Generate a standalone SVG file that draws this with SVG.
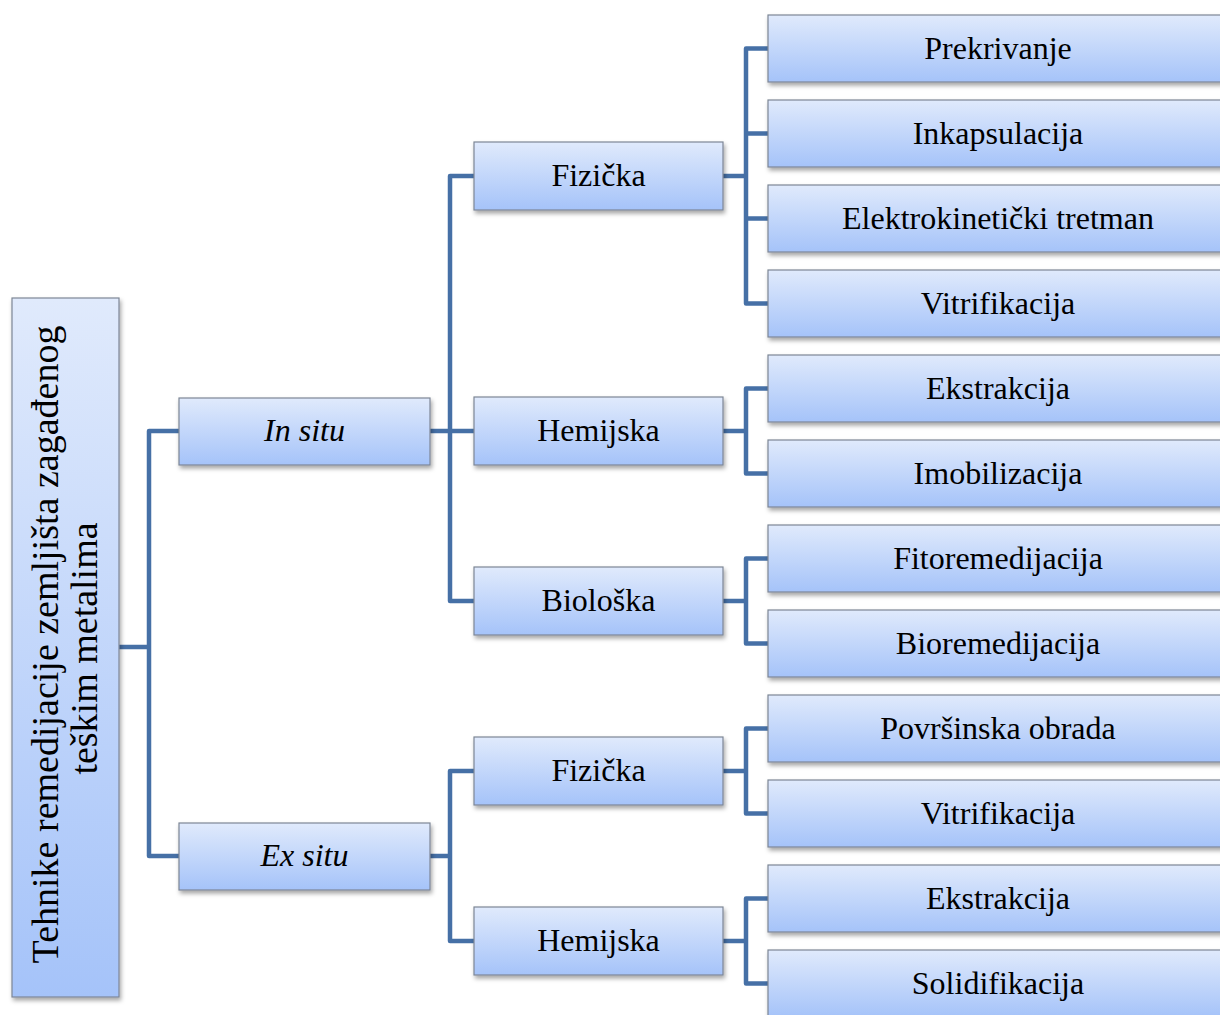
<svg xmlns="http://www.w3.org/2000/svg" width="1220" height="1015" viewBox="0 0 1220 1015">
<defs>
<linearGradient id="g" x1="0" y1="0" x2="0" y2="1">
<stop offset="0" stop-color="#e0eafc"/>
<stop offset="1" stop-color="#a5c3f9"/>
</linearGradient>
<linearGradient id="gr" x1="0" y1="0" x2="0" y2="1">
<stop offset="0" stop-color="#e0eafc"/>
<stop offset="1" stop-color="#a5c3f9"/>
</linearGradient>
<filter id="sh" x="-10%" y="-20%" width="130%" height="150%">
<feDropShadow dx="1.5" dy="3" stdDeviation="2" flood-color="#000" flood-opacity="0.35"/>
</filter>
</defs>
<style>
.box{fill:url(#g);stroke:#7d8696;stroke-width:1.2;filter:url(#sh)}
.t{font-family:"Liberation Serif","Times New Roman",serif;font-size:32px;fill:#000;text-anchor:middle}
.rt{font-family:"Liberation Serif","Times New Roman",serif;font-size:38px;fill:#000;text-anchor:middle}
.i{font-style:italic}
.c{fill:none;stroke:#4670a6;stroke-width:4.5;stroke-linejoin:round}
</style>
<rect width="1220" height="1015" fill="#fff"/>
<g id="connectors">
<path class="c" d="M119,647 H149 M179,431 H149 V856 H179"/>
<path class="c" d="M430,431 H474 M474,176 H450 V601 H474"/>
<path class="c" d="M430,856 H450 M474,771 H450 V941 H474"/>
<path class="c" d="M723,176 H746 M768,48.5 H746 V303.5 H768 M746,133.5 H768 M746,218.5 H768"/>
<path class="c" d="M723,431 H746 M768,388.5 H746 V473.5 H768"/>
<path class="c" d="M723,601 H746 M768,558.5 H746 V643.5 H768"/>
<path class="c" d="M723,771 H746 M768,728.5 H746 V813.5 H768"/>
<path class="c" d="M723,941 H746 M768,898.5 H746 V983.5 H768"/>
</g>
<g id="root">
<rect class="box" x="12" y="298" width="107" height="699" fill="url(#gr)"/>
<text class="rt" transform="translate(58,644.5) rotate(-90)">Tehnike remedijacije zemljišta zagađenog</text>
<text class="rt" transform="translate(97,648.5) rotate(-90)">teškim metalima</text>
</g>
<g id="in-situ"><rect class="box" x="179" y="398" width="251" height="67"/><text class="t i" x="304.5" y="441">In situ</text></g>
<g id="ex-situ"><rect class="box" x="179" y="823" width="251" height="67"/><text class="t i" x="304.5" y="866">Ex situ</text></g>
<g id="in-fizicka"><rect class="box" x="474" y="142" width="249" height="68"/><text class="t" x="598.5" y="186">Fizička</text></g>
<g id="in-hemijska"><rect class="box" x="474" y="397" width="249" height="68"/><text class="t" x="598.5" y="441">Hemijska</text></g>
<g id="in-bioloska"><rect class="box" x="474" y="567" width="249" height="68"/><text class="t" x="598.5" y="611">Biološka</text></g>
<g id="ex-fizicka"><rect class="box" x="474" y="737" width="249" height="68"/><text class="t" x="598.5" y="781">Fizička</text></g>
<g id="ex-hemijska"><rect class="box" x="474" y="907" width="249" height="68"/><text class="t" x="598.5" y="951">Hemijska</text></g>
<g id="prekrivanje"><rect class="box" x="768" y="15" width="460" height="67"/><text class="t" x="998" y="58.5">Prekrivanje</text></g>
<g id="inkapsulacija"><rect class="box" x="768" y="100" width="460" height="67"/><text class="t" x="998" y="143.5">Inkapsulacija</text></g>
<g id="elektrokineticki"><rect class="box" x="768" y="185" width="460" height="67"/><text class="t" x="998" y="228.5">Elektrokinetički tretman</text></g>
<g id="vitrifikacija-1"><rect class="box" x="768" y="270" width="460" height="67"/><text class="t" x="998" y="313.5">Vitrifikacija</text></g>
<g id="ekstrakcija-1"><rect class="box" x="768" y="355" width="460" height="67"/><text class="t" x="998" y="398.5">Ekstrakcija</text></g>
<g id="imobilizacija"><rect class="box" x="768" y="440" width="460" height="67"/><text class="t" x="998" y="483.5">Imobilizacija</text></g>
<g id="fitoremedijacija"><rect class="box" x="768" y="525" width="460" height="67"/><text class="t" x="998" y="568.5">Fitoremedijacija</text></g>
<g id="bioremedijacija"><rect class="box" x="768" y="610" width="460" height="67"/><text class="t" x="998" y="653.5">Bioremedijacija</text></g>
<g id="povrsinska"><rect class="box" x="768" y="695" width="460" height="67"/><text class="t" x="998" y="738.5">Površinska obrada</text></g>
<g id="vitrifikacija-2"><rect class="box" x="768" y="780" width="460" height="67"/><text class="t" x="998" y="823.5">Vitrifikacija</text></g>
<g id="ekstrakcija-2"><rect class="box" x="768" y="865" width="460" height="67"/><text class="t" x="998" y="908.5">Ekstrakcija</text></g>
<g id="solidifikacija"><rect class="box" x="768" y="950" width="460" height="67"/><text class="t" x="998" y="993.5">Solidifikacija</text></g>
</svg>
